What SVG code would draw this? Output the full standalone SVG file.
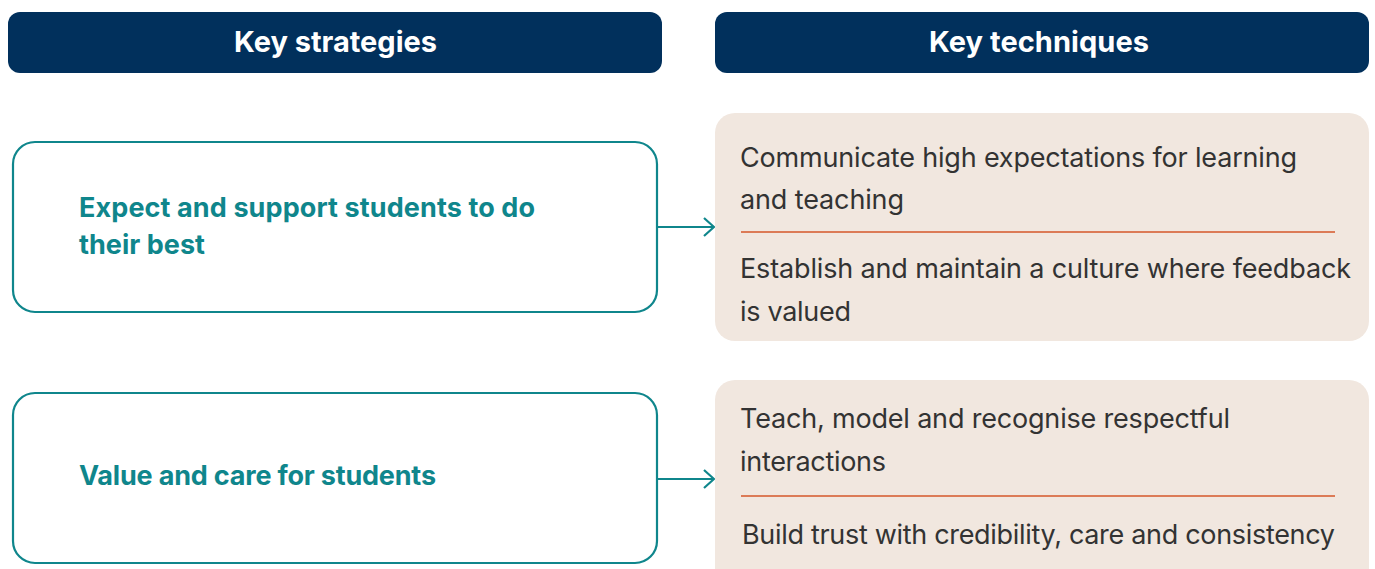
<svg xmlns="http://www.w3.org/2000/svg" width="1375" height="569" viewBox="0 0 1375 569">
  <defs>
    <style>
      .hdr-box { fill: #01305c; }
      .hdr-text { fill: #ffffff; font-family: "Inter", "Lato", sans-serif; font-weight: 700; font-size: 29px; }
      .strat-box { fill: #ffffff; stroke: #0f868c; stroke-width: 2.2; }
      .strat-text { fill: #0f868c; font-family: "Inter", "Lato", sans-serif; font-weight: 700; font-size: 27px; }
      .tech-box { fill: #f1e7df; }
      .tech-text { fill: #333333; font-family: "Inter", "Lato", sans-serif; font-weight: 400; font-size: 27px; }
      .divider { stroke: #d4572a; stroke-width: 1.5; }
      .conn { stroke: #0f868c; stroke-width: 2.2; fill: none; }
    </style>
    <marker id="chevron" viewBox="0 0 12 20" refX="11" refY="10" markerWidth="12" markerHeight="20" markerUnits="userSpaceOnUse" orient="auto">
      <path d="M1,1 L11,10 L1,19" fill="none" stroke="#0f868c" stroke-width="2.2"/>
    </marker>
  </defs>

  <!-- column headers -->
  <g id="header-strategies">
    <rect class="hdr-box" x="8" y="12" width="654" height="61" rx="12"/>
    <text class="hdr-text" x="234" y="52" textLength="203">Key strategies</text>
  </g>
  <g id="header-techniques">
    <rect class="hdr-box" x="715" y="12" width="654" height="61" rx="12"/>
    <text class="hdr-text" x="929" y="52" textLength="220">Key techniques</text>
  </g>

  <!-- strategy nodes -->
  <g id="strategy-best">
    <rect class="strat-box" x="13" y="142" width="644" height="170" rx="22"/>
    <text class="strat-text" x="79" y="217" textLength="456">Expect and support students to do</text>
    <text class="strat-text" x="79" y="254" textLength="126">their best</text>
  </g>
  <g id="strategy-care">
    <rect class="strat-box" x="13" y="393" width="644" height="170" rx="22"/>
    <text class="strat-text" x="79" y="485" textLength="357">Value and care for students</text>
  </g>

  <!-- technique nodes -->
  <g id="techniques-best">
    <rect class="tech-box" x="715" y="113" width="654" height="228" rx="20"/>
    <text class="tech-text" x="740" y="167" textLength="557">Communicate high expectations for learning</text>
    <text class="tech-text" x="740" y="209" textLength="164">and teaching</text>
    <line class="divider" x1="741" y1="232" x2="1335" y2="232"/>
    <text class="tech-text" x="740" y="278" textLength="611">Establish and maintain a culture where feedback</text>
    <text class="tech-text" x="740" y="321" textLength="111">is valued</text>
  </g>
  <g id="techniques-care">
    <rect class="tech-box" x="715" y="380" width="654" height="210" rx="20"/>
    <text class="tech-text" x="740" y="428" textLength="490">Teach, model and recognise respectful</text>
    <text class="tech-text" x="740" y="471" textLength="146">interactions</text>
    <line class="divider" x1="741" y1="496" x2="1335" y2="496"/>
    <text class="tech-text" x="742" y="544" textLength="593">Build trust with credibility, care and consistency</text>
  </g>

  <!-- connectors -->
  <g id="connectors">
    <line class="conn" x1="657" y1="227" x2="714" y2="227" marker-end="url(#chevron)"/>
    <line class="conn" x1="657" y1="479" x2="714" y2="479" marker-end="url(#chevron)"/>
  </g>
</svg>
